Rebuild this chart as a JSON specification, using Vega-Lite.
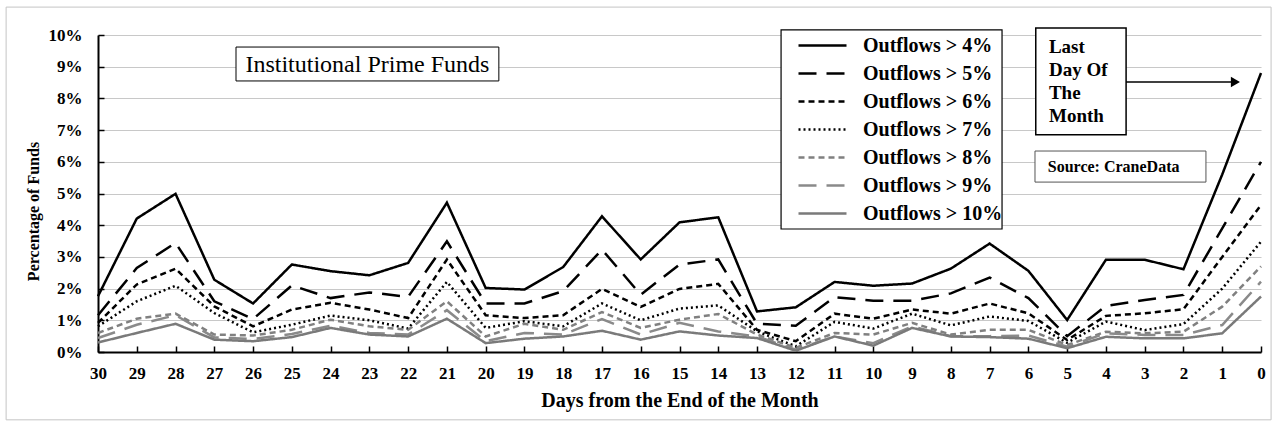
{
  "$schema": "https://vega.github.io/schema/vega-lite/v6.json",
  "width": 1163,
  "height": 317,
  "autosize": {"type": "none"},
  "padding": {"left": 98, "top": 35, "right": 15, "bottom": 74},
  "background": "white",
  "config": {
    "view": {"stroke": null},
    "font": "Liberation Serif",
    "axis": {
      "labelFont": "Liberation Serif",
      "labelFontWeight": "bold",
      "labelColor": "black",
      "titleFont": "Liberation Serif",
      "titleFontWeight": "bold",
      "titleColor": "black",
      "domainColor": "black",
      "domainWidth": 2,
      "tickColor": "black",
      "tickWidth": 1.5
    }
  },
  "datasets": {
    "funds": [
      {"day": 30, "o4": 1.76, "o5": 1.16, "o6": 0.92, "o7": 0.81, "o8": 0.60, "o9": 0.44, "o10": 0.30},
      {"day": 29, "o4": 4.21, "o5": 2.65, "o6": 2.13, "o7": 1.60, "o8": 1.05, "o9": 0.86, "o10": 0.60},
      {"day": 28, "o4": 4.99, "o5": 3.44, "o6": 2.63, "o7": 2.09, "o8": 1.21, "o9": 1.16, "o10": 0.89},
      {"day": 27, "o4": 2.28, "o5": 1.60, "o6": 1.44, "o7": 1.23, "o8": 0.55, "o9": 0.46, "o10": 0.39},
      {"day": 26, "o4": 1.53, "o5": 1.04, "o6": 0.81, "o7": 0.62, "o8": 0.52, "o9": 0.41, "o10": 0.34},
      {"day": 25, "o4": 2.76, "o5": 2.10, "o6": 1.34, "o7": 0.86, "o8": 0.70, "o9": 0.57, "o10": 0.47},
      {"day": 24, "o4": 2.55, "o5": 1.70, "o6": 1.55, "o7": 1.15, "o8": 1.02, "o9": 0.83, "o10": 0.76},
      {"day": 23, "o4": 2.42, "o5": 1.88, "o6": 1.34, "o7": 1.00, "o8": 0.81, "o9": 0.60, "o10": 0.55},
      {"day": 22, "o4": 2.81, "o5": 1.74, "o6": 1.07, "o7": 0.74, "o8": 0.70, "o9": 0.55, "o10": 0.49},
      {"day": 21, "o4": 4.71, "o5": 3.49, "o6": 2.92, "o7": 2.21, "o8": 1.60, "o9": 1.32, "o10": 1.05},
      {"day": 20, "o4": 2.02, "o5": 1.53, "o6": 1.16, "o7": 0.76, "o8": 0.49, "o9": 0.34, "o10": 0.28},
      {"day": 19, "o4": 1.97, "o5": 1.53, "o6": 1.07, "o7": 0.97, "o8": 0.89, "o9": 0.60, "o10": 0.42},
      {"day": 18, "o4": 2.68, "o5": 1.92, "o6": 1.16, "o7": 0.81, "o8": 0.70, "o9": 0.55, "o10": 0.49},
      {"day": 17, "o4": 4.28, "o5": 3.23, "o6": 1.99, "o7": 1.53, "o8": 1.26, "o9": 1.04, "o10": 0.67},
      {"day": 16, "o4": 2.92, "o5": 1.81, "o6": 1.42, "o7": 1.00, "o8": 0.76, "o9": 0.55, "o10": 0.39},
      {"day": 15, "o4": 4.09, "o5": 2.76, "o6": 1.99, "o7": 1.37, "o8": 1.02, "o9": 0.92, "o10": 0.65},
      {"day": 14, "o4": 4.25, "o5": 2.92, "o6": 2.15, "o7": 1.47, "o8": 1.20, "o9": 0.65, "o10": 0.52},
      {"day": 13, "o4": 1.28, "o5": 0.89, "o6": 0.70, "o7": 0.65, "o8": 0.55, "o9": 0.49, "o10": 0.44},
      {"day": 12, "o4": 1.41, "o5": 0.83, "o6": 0.34, "o7": 0.18, "o8": 0.13, "o9": 0.07, "o10": 0.04},
      {"day": 11, "o4": 2.21, "o5": 1.73, "o6": 1.21, "o7": 0.95, "o8": 0.60, "o9": 0.49, "o10": 0.49},
      {"day": 10, "o4": 2.09, "o5": 1.62, "o6": 1.05, "o7": 0.74, "o8": 0.55, "o9": 0.28, "o10": 0.20},
      {"day": 9, "o4": 2.16, "o5": 1.62, "o6": 1.34, "o7": 1.21, "o8": 0.92, "o9": 0.81, "o10": 0.76},
      {"day": 8, "o4": 2.63, "o5": 1.85, "o6": 1.21, "o7": 0.84, "o8": 0.55, "o9": 0.50, "o10": 0.49},
      {"day": 7, "o4": 3.42, "o5": 2.35, "o6": 1.53, "o7": 1.12, "o8": 0.70, "o9": 0.50, "o10": 0.47},
      {"day": 6, "o4": 2.56, "o5": 1.70, "o6": 1.22, "o7": 0.98, "o8": 0.70, "o9": 0.52, "o10": 0.42},
      {"day": 5, "o4": 1.01, "o5": 0.50, "o6": 0.38, "o7": 0.29, "o8": 0.22, "o9": 0.17, "o10": 0.12},
      {"day": 4, "o4": 2.91, "o5": 1.45, "o6": 1.14, "o7": 0.96, "o8": 0.64, "o9": 0.59, "o10": 0.48},
      {"day": 3, "o4": 2.91, "o5": 1.64, "o6": 1.22, "o7": 0.69, "o8": 0.59, "o9": 0.54, "o10": 0.43},
      {"day": 2, "o4": 2.61, "o5": 1.80, "o6": 1.35, "o7": 0.88, "o8": 0.64, "o9": 0.54, "o10": 0.43},
      {"day": 1, "o4": 5.60, "o5": 3.90, "o6": 3.00, "o7": 2.00, "o8": 1.43, "o9": 0.85, "o10": 0.59},
      {"day": 0, "o4": 8.80, "o5": 6.00, "o6": 4.64, "o7": 3.48, "o8": 2.70, "o9": 2.22, "o10": 1.75}
    ]
  },
  "layer": [
    {
      "data": {"name": "funds"},
      "transform": [
        {"fold": ["o4", "o5", "o6", "o7", "o8", "o9", "o10"], "as": ["series", "pct"]}
      ],
      "mark": {"type": "line", "strokeWidth": 2.5, "clip": false},
      "encoding": {
        "x": {
          "field": "day", "type": "quantitative",
          "scale": {"domain": [0, 30], "reverse": true, "nice": false},
          "axis": {
            "values": [0,1,2,3,4,5,6,7,8,9,10,11,12,13,14,15,16,17,18,19,20,21,22,23,24,25,26,27,28,29,30],
            "tickCount": 31,
            "format": "d",
            "grid": false,
            "labelFontSize": 17,
            "tickSize": -6,
            "labelPadding": 19,
            "title": "Days from the End of  the Month",
            "titleFontSize": 20,
            "titlePadding": 9,
            "labelFlush": false,
            "labelOverlap": false
          }
        },
        "y": {
          "field": "pct", "type": "quantitative",
          "scale": {"domain": [0, 10], "nice": false},
          "axis": {
            "values": [0,1,2,3,4,5,6,7,8,9,10],
            "tickCount": 11,
            "labelExpr": "datum.value + '%'",
            "grid": true,
            "gridColor": "#c8c8c8",
            "gridWidth": 1.2,
            "labelFontSize": 17,
            "tickSize": -6,
            "labelPadding": 22,
            "labelOverlap": false,
            "title": "Percentage of Funds",
            "titleFontSize": 16,
            "titleAngle": -90,
            "titleAlign": "center",
            "titleBaseline": "middle",
            "titleX": -65,
            "titleY": 176,
            "labelFlush": false
          }
        },
        "color": {
          "field": "series", "type": "nominal",
          "scale": {
            "domain": ["o4", "o5", "o6", "o7", "o8", "o9", "o10"],
            "range": ["#000000", "#000000", "#000000", "#000000", "#808080", "#8a8a8a", "#7a7a7a"]
          },
          "legend": {
            "title": null,
            "orient": "none",
            "legendX": 711,
            "legendY": -3,
            "direction": "vertical",
            "padding": 0,
            "symbolType": "M-2,0H2",
            "symbolSize": 576,
            "symbolStrokeWidth": 2.5,
            "symbolOffset": 0,
            "labelOffset": 27,
            "rowPadding": 4,
            "labelFont": "Liberation Serif",
            "labelFontSize": 20,
            "labelFontWeight": "bold",
            "labelColor": "black",
            "labelExpr": "'Outflows > ' + slice(datum.label, 1) + '%'"
          }
        },
        "strokeDash": {
          "field": "series", "type": "nominal",
          "scale": {
            "domain": ["o4", "o5", "o6", "o7", "o8", "o9", "o10"],
            "range": [[1, 0], [18, 10], [6, 4], [2, 3], [6, 4], [18, 10], [1, 0]]
          },
          "legend": null
        }
      }
    },
    {
      "data": {"values": [{}]},
      "mark": {"type": "rect", "fill": "white", "stroke": "black", "strokeWidth": 1.2, "clip": false},
      "encoding": {
        "x": {"datum": 12.38, "type": "quantitative"},
        "x2": {"datum": 6.68},
        "y": {"datum": 10.16, "type": "quantitative"},
        "y2": {"datum": 3.88}
      }
    },
    {
      "data": {"values": [{}]},
      "mark": {"type": "rect", "fill": "white", "stroke": "black", "strokeWidth": 1, "clip": false},
      "encoding": {
        "x": {"datum": 26.44, "type": "quantitative"},
        "x2": {"datum": 19.66},
        "y": {"datum": 9.62, "type": "quantitative"},
        "y2": {"datum": 8.55}
      }
    },
    {
      "data": {"values": [{"label": "Institutional  Prime  Funds"}]},
      "mark": {"type": "text", "font": "Liberation Serif", "fontSize": 24, "color": "black", "align": "center", "baseline": "middle", "clip": false},
      "encoding": {
        "x": {"datum": 23.05, "type": "quantitative"},
        "y": {"datum": 9.06, "type": "quantitative"},
        "text": {"field": "label"}
      }
    },
    {
      "data": {"values": [{}]},
      "mark": {"type": "rect", "fill": "white", "stroke": "black", "strokeWidth": 1.5, "clip": false},
      "encoding": {
        "x": {"datum": 5.81, "type": "quantitative"},
        "x2": {"datum": 3.48},
        "y": {"datum": 10.22, "type": "quantitative"},
        "y2": {"datum": 6.85}
      }
    },
    {
      "data": {"values": [{}]},
      "mark": {"type": "text", "font": "Liberation Serif", "fontSize": 19, "fontWeight": "bold", "color": "black", "align": "left", "baseline": "alphabetic", "lineHeight": 23, "clip": false},
      "encoding": {
        "x": {"datum": 5.47, "type": "quantitative"},
        "y": {"datum": 9.43, "type": "quantitative"},
        "text": {"value": ["Last", "Day Of", "The", "Month"]}
      }
    },
    {
      "data": {"values": [{}]},
      "mark": {"type": "rule", "stroke": "black", "strokeWidth": 1.5, "clip": false},
      "encoding": {
        "x": {"datum": 3.48, "type": "quantitative"},
        "x2": {"datum": 0.75},
        "y": {"datum": 8.52, "type": "quantitative"}
      }
    },
    {
      "data": {"values": [{}]},
      "mark": {"type": "point", "shape": "triangle-right", "filled": true, "color": "black", "size": 110, "opacity": 1, "clip": false},
      "encoding": {
        "x": {"datum": 0.66, "type": "quantitative"},
        "y": {"datum": 8.52, "type": "quantitative"}
      }
    },
    {
      "data": {"values": [{}]},
      "mark": {"type": "rect", "fill": "white", "stroke": "#555555", "strokeWidth": 1, "clip": false},
      "encoding": {
        "x": {"datum": 5.83, "type": "quantitative"},
        "x2": {"datum": 1.42},
        "y": {"datum": 6.34, "type": "quantitative"},
        "y2": {"datum": 5.36}
      }
    },
    {
      "data": {"values": [{}]},
      "mark": {"type": "text", "font": "Liberation Serif", "fontSize": 16, "fontWeight": "bold", "color": "black", "align": "left", "baseline": "middle", "clip": false},
      "encoding": {
        "x": {"datum": 5.5, "type": "quantitative"},
        "y": {"datum": 5.85, "type": "quantitative"},
        "text": {"value": "Source: CraneData"}
      }
    },
    {
      "data": {"values": [{}]},
      "mark": {"type": "rect", "fill": null, "stroke": "#c4c4c4", "strokeWidth": 1, "clip": false},
      "encoding": {
        "x": {"datum": 32.37, "type": "quantitative"},
        "x2": {"datum": -0.26},
        "y": {"datum": 10.88, "type": "quantitative"},
        "y2": {"datum": -2.14}
      }
    }
  ]
}
